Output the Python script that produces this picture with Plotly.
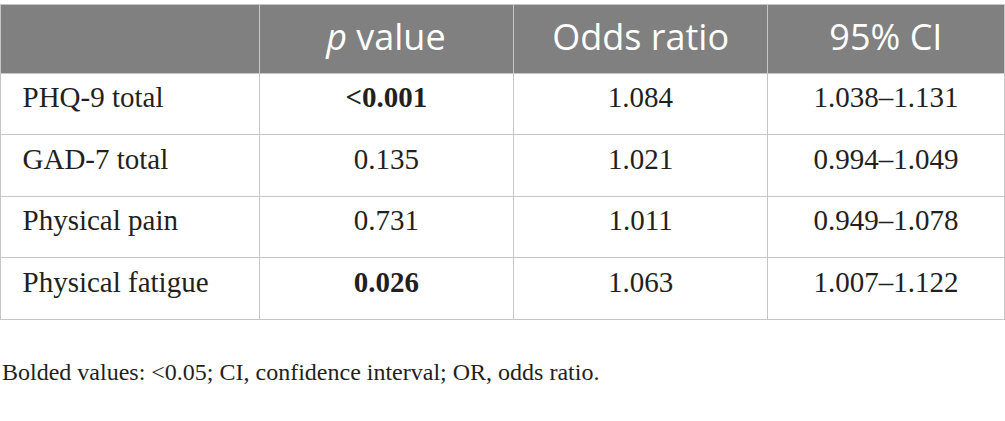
import plotly.graph_objects as go

# table contents
header = ["", "<i>p</i> value", "Odds ratio", "95% CI"]
variables = ["PHQ-9 total", "GAD-7 total", "Physical pain", "Physical fatigue"]
p_values = ["<b><0.001</b>", "0.135", "0.731", "<b>0.026</b>"]
odds_ratios = ["1.084", "1.021", "1.011", "1.063"]
ci_95 = ["1.038–1.131", "0.994–1.049", "0.949–1.078", "1.007–1.122"]
footnote = "Bolded values: <0.05; CI, confidence interval; OR, odds ratio."

W, H = 1005, 421
line_col = "#c6c6c6"


def tagged(items, indent=""):
    # text with a tag is placed a little lower in the cell, keep it all the same
    return [f"<span>{indent}{t}</span>" if t else t for t in items]


fig = go.Figure(go.Table(
    columnwidth=[259, 254, 254, 236],
    domain=dict(x=[0, 1004 / W], y=[0, 1 - 4 / H]),
    header=dict(
        values=tagged(header),
        fill_color="#808080",
        line=dict(color=line_col, width=1),
        font=dict(family="Open Sans", size=36, color="white"),
        align="center",
        height=69,
    ),
    cells=dict(
        values=[tagged(variables, "\u00a0\u00a0"), tagged(p_values),
                tagged(odds_ratios), tagged(ci_95)],
        fill_color="white",
        line=dict(color=line_col, width=1),
        font=dict(family="Liberation Serif", size=29, color="#231f20"),
        align=["left", "center", "center", "center"],
        height=61.5,
    ),
))

fig.add_annotation(
    text=footnote, xref="paper", yref="paper", x=0, y=1 - 372 / H,
    xanchor="left", yanchor="middle", showarrow=False,
    font=dict(family="Liberation Serif", size=24, color="#231f20"),
)

fig.update_layout(
    width=W, height=H,
    margin=dict(l=0, r=0, t=0, b=0),
    paper_bgcolor="white",
)

fig.write_html("out.html", config={"displayModeBar": False},
               post_script="document.body.style.margin='0';")
